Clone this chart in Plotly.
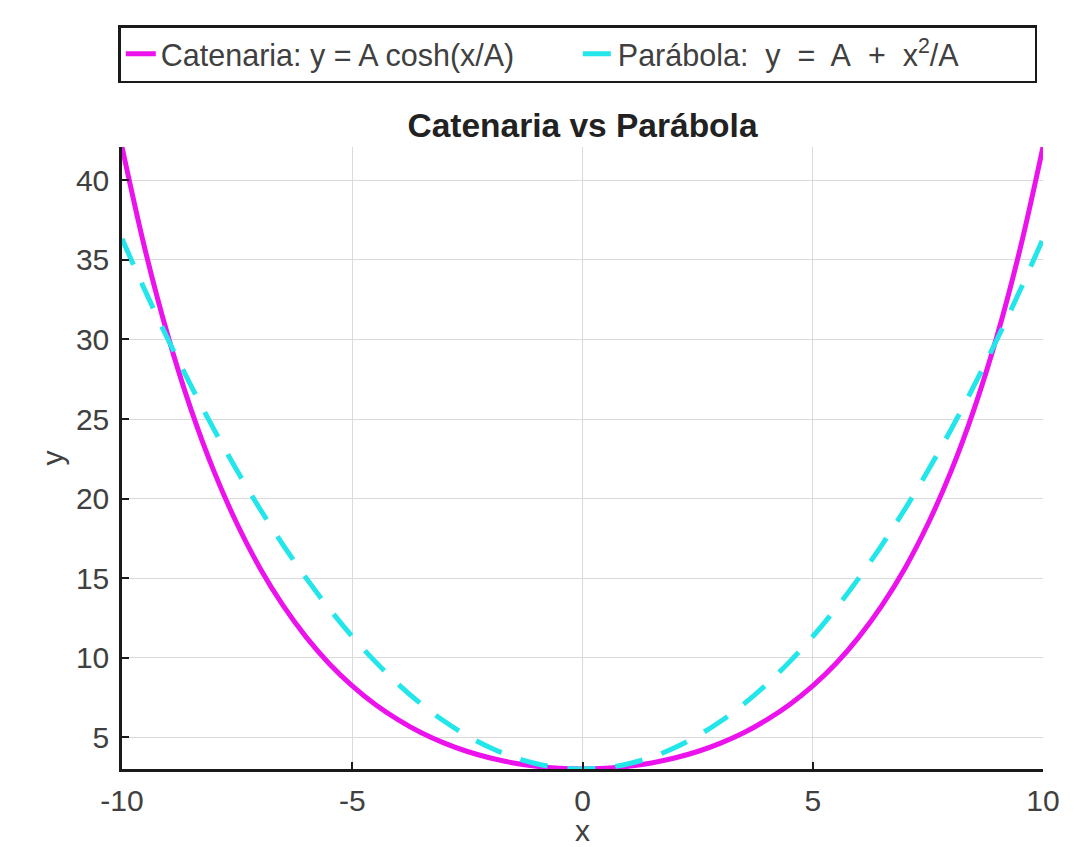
import plotly.graph_objects as go

# x samples (both curves share the same x)
x_vals = [-10, -9.5, -9, -8.5, -8, -7.5, -7, -6.5, -6, -5.5, -5, -4.5, -4, -3.5, -3, -2.5, -2, -1.5, -1, -0.5,
          0, 0.5, 1, 1.5, 2, 2.5, 3, 3.5, 4, 4.5, 5, 5.5, 6, 6.5, 7, 7.5, 8, 8.5, 9, 9.5, 10]

# catenary values (right half, mirrored)
cat_half = [3.00, 3.04, 3.17, 3.38, 3.69, 4.10, 4.63, 5.28, 6.09, 7.06, 8.23, 9.62, 11.29, 13.27, 15.61,
            18.40, 21.69, 25.59, 30.20, 35.66, 42.10]
# parabola values (right half, mirrored)
par_half = [3.00, 3.08, 3.33, 3.75, 4.33, 5.08, 6.00, 7.08, 8.33, 9.75, 11.33, 13.08, 15.00, 17.08, 19.33,
            21.75, 24.33, 27.08, 30.00, 33.08, 36.33]

cat_vals = cat_half[:0:-1] + cat_half
par_vals = par_half[:0:-1] + par_half

x_ticks = [-10, -5, 0, 5, 10]
x_tick_text = ["-10", "-5", "0", "5", "10"]
y_ticks = [5, 10, 15, 20, 25, 30, 35, 40]

title_text = "Catenaria vs Parábola"
cat_name = "Catenaria: y = A cosh(x/A)"
par_name = "Parábola:\u00a0 y\u00a0 =\u00a0 A\u00a0 +\u00a0 x<sup>2</sup>/A"

MAG = "#EC12EC"
CYA = "#22E6EA"
TXT = "#404040"
FONT = "Arial, Liberation Sans, sans-serif"

fig = go.Figure()
fig.add_trace(go.Scatter(x=x_vals, y=cat_vals, mode="lines", name=cat_name,
                         line=dict(color=MAG, width=5, shape="spline")))
fig.add_trace(go.Scatter(x=x_vals, y=par_vals, mode="lines", name=par_name,
                         line=dict(color=CYA, width=5, dash="28px,20px", shape="spline")))

axis_common = dict(showline=True, linecolor="#1a1a1a", linewidth=2.5, mirror=False,
                   ticks="inside", ticklen=7, tickwidth=2, tickcolor="#1a1a1a",
                   showgrid=True, gridcolor="#dadada", gridwidth=1.2, zeroline=False,
                   automargin=False,
                   tickfont=dict(family=FONT, size=30, color=TXT))

plot_h = 847 - 147 - 78

fig.update_layout(
    width=1074, height=847,
    paper_bgcolor="white", plot_bgcolor="white",
    margin=dict(l=122, r=31, t=147, b=78),
    title=dict(text="<b>" + title_text + "</b>", x=0.5, xanchor="center", xref="paper",
               y=1 - 125 / 847, yanchor="middle",
               font=dict(family=FONT, size=33.5, color="#222222")),
    xaxis=dict(range=[-10, 10], tickvals=x_ticks, ticktext=x_tick_text, ticklabelstandoff=3,
               title=dict(text="x", standoff=6,
                          font=dict(family=FONT, size=30, color=TXT)),
               **axis_common),
    yaxis=dict(range=[3, 42.1], tickvals=y_ticks, ticklabelstandoff=4,
               title=dict(text="y", standoff=4,
                          font=dict(family=FONT, size=30, color=TXT)),
               **axis_common),
    legend=dict(orientation="h", x=-0.004, xanchor="left", y=1 + (147 - 25) / plot_h, yanchor="top",
                xref="paper", yref="paper",
                bordercolor="#1a1a1a", borderwidth=2.5, bgcolor="white",
                font=dict(family=FONT, size=30.5, color=TXT),
                itemwidth=30, tracegroupgap=0, entrywidth=412),
    showlegend=True,
)

fig.write_html("out.html")
